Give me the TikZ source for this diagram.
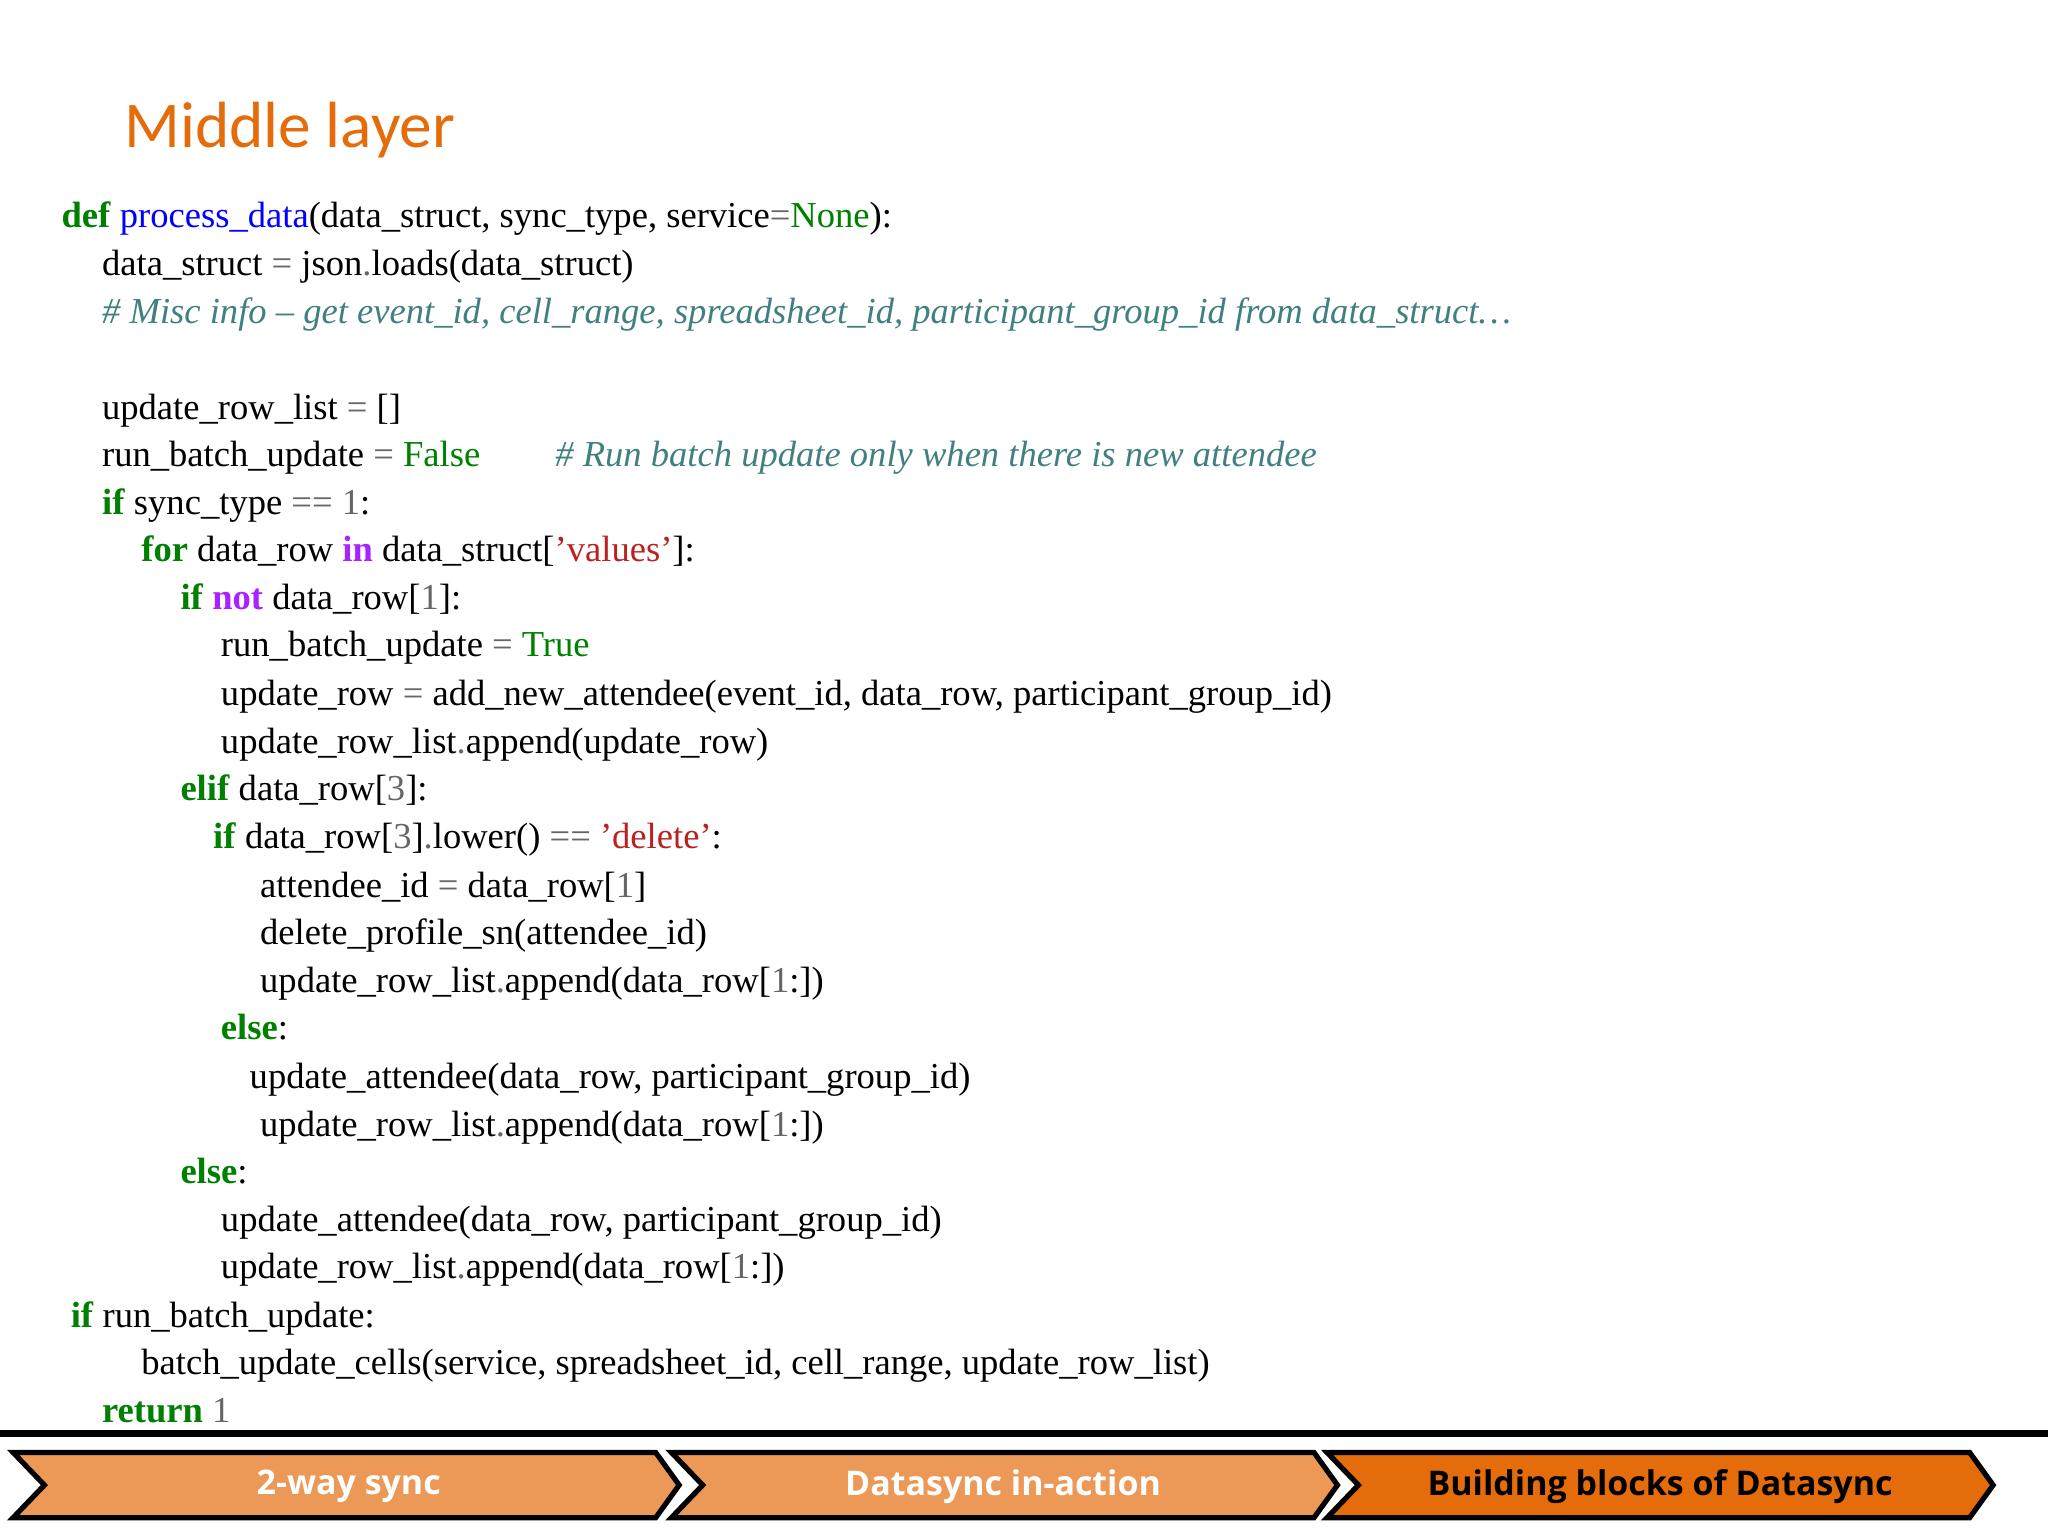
\documentclass[tikz,border=0pt]{standalone}
\usepackage{fontspec}
\setmainfont{Liberation Serif}
\newfontfamily\titlefont{Carlito}
\newfontfamily\barfont{Open Sans}
\definecolor{kwc}{RGB}{0,128,0}
\definecolor{fnc}{RGB}{0,0,255}
\definecolor{pur}{RGB}{170,34,255}
\definecolor{grc}{RGB}{102,102,102}
\definecolor{stc}{RGB}{186,33,33}
\definecolor{cmc}{RGB}{64,128,128}
\definecolor{ttl}{RGB}{228,108,10}
\definecolor{lor}{RGB}{236,152,86}
\definecolor{dor}{RGB}{228,108,10}
\newcommand\kw[1]{\textcolor{kwc}{\textbf{#1}}}
\newcommand\pu[1]{\textcolor{pur}{\textbf{#1}}}
\newcommand\gr[1]{\textcolor{grc}{#1}}
\newcommand\sr[1]{\textcolor{stc}{#1}}
\newcommand\cmt[1]{\textcolor{cmc}{\itshape #1}}
\begin{document}
\begin{tikzpicture}[x=1pt,y=-1pt,
  code/.style={anchor=base west,inner sep=0pt,font=\fontsize{28}{30}\selectfont},
  chev/.style={draw=black,line width=4pt,line join=miter}]
\useasboundingbox (0,0) rectangle (1568,1176);
\fill[white] (0,0) rectangle (1568,1176);
\node[anchor=base west,inner sep=0pt,text=ttl,font=\titlefont\fontsize{50}{52}\selectfont] (title) at (95,113) {Middle layer};
\node[code] (l1) at (47,174) {\kw{def} \textcolor{fnc}{process\_data}(data\_struct, sync\_type, service\gr{=}\textcolor{kwc}{None}):};
\node[code] (l2) at (78,211) {data\_struct \gr{=} json\gr{.}loads(data\_struct)};
\node[code] (l3) at (78,248) {\cmt{\# Misc info – get event\_id, cell\_range, spreadsheet\_id, participant\_group\_id from data\_struct…}};
\node[code] (l4) at (78,321) {update\_row\_list \gr{=} []};
\node[code] (l5) at (78,357) {run\_batch\_update \gr{=} \textcolor{kwc}{False}};
\node[code] (l5c) at (425,357) {\cmt{\# Run batch update only when there is new attendee}};
\node[code] (l6) at (78,394) {\kw{if} sync\_type \gr{==} \gr{1}:};
\node[code] (l7) at (108,430) {\kw{for} data\_row \pu{in} data\_struct[\sr{'values'}]:};
\node[code] (l8) at (138,467) {\kw{if} \pu{not} data\_row[\gr{1}]:};
\node[code] (l9) at (169,503) {run\_batch\_update \gr{=} \textcolor{kwc}{True}};
\node[code] (l10) at (169,540) {update\_row \gr{=} add\_new\_attendee(event\_id, data\_row, participant\_group\_id)};
\node[code] (l11) at (169,577) {update\_row\_list\gr{.}append(update\_row)};
\node[code] (l12) at (138,613) {\kw{elif} data\_row[\gr{3}]:};
\node[code] (l13) at (163,650) {\kw{if} data\_row[\gr{3}]\gr{.}lower() \gr{==} \sr{'delete'}:};
\node[code] (l14) at (199,687) {attendee\_id \gr{=} data\_row[\gr{1}]};
\node[code] (l15) at (199,723) {delete\_profile\_sn(attendee\_id)};
\node[code] (l16) at (199,760) {update\_row\_list\gr{.}append(data\_row[\gr{1}:])};
\node[code] (l17) at (169,796) {\kw{else}:};
\node[code] (l18) at (191,833) {update\_attendee(data\_row, participant\_group\_id)};
\node[code] (l19) at (199,870) {update\_row\_list\gr{.}append(data\_row[\gr{1}:])};
\node[code] (l20) at (138,906) {\kw{else}:};
\node[code] (l21) at (169,943) {update\_attendee(data\_row, participant\_group\_id)};
\node[code] (l22) at (169,979) {update\_row\_list\gr{.}append(data\_row[\gr{1}:])};
\node[code] (l23) at (54,1016) {\kw{if} run\_batch\_update:};
\node[code] (l24) at (108,1052) {batch\_update\_cells(service, spreadsheet\_id, cell\_range, update\_row\_list)};
\node[code] (l25) at (78,1089) {\kw{return} \gr{1}};
\fill[black] (0,1095) rectangle (1568,1100);
\draw[chev,fill=lor] (10,1112) -- (502,1112) -- (520,1137) -- (502,1162) -- (10,1162) -- (34,1137) -- cycle;
\draw[chev,fill=lor] (514,1112) -- (1006,1112) -- (1024,1137) -- (1006,1162) -- (514,1162) -- (538,1137) -- cycle;
\draw[chev,fill=dor] (1016,1112) -- (1508,1112) -- (1526,1137) -- (1508,1162) -- (1016,1162) -- (1040,1137) -- cycle;
\node[font=\barfont\bfseries\fontsize{26}{28}\selectfont,text=white] (b1) at (267,1138) {2-way sync};
\node[font=\barfont\bfseries\fontsize{26}{28}\selectfont,text=white] (b2) at (768,1138) {Datasync in-action};
\node[font=\barfont\bfseries\fontsize{26}{28}\selectfont,text=black] (b3) at (1271,1138) {Building blocks of Datasync};
\end{tikzpicture}
\end{document}
